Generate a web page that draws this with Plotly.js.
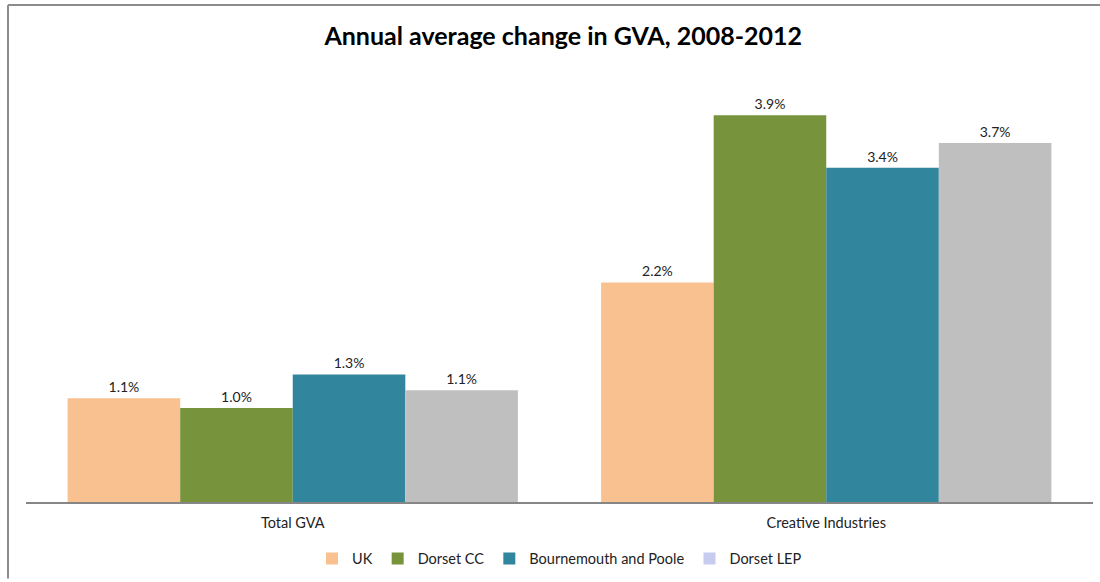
<!DOCTYPE html>
<html>
<head>
<meta charset="utf-8">
<script src="https://cdn.plot.ly/plotly-3.0.1.min.js"></script>
<style>
html,body{margin:0;padding:0;background:#fff;}
#chart{width:1100px;height:582px;}
</style>
</head>
<body>
<div id="chart"></div>
<script>
const categories = ["Total GVA", "Creative Industries"];
const seriesNames = ["UK", "Dorset CC", "Bournemouth and Poole", "Dorset LEP"];
const ukValues = [1.05, 2.22];
const dorsetCCValues = [0.95, 3.91];
const bpValues = [1.29, 3.38];
const lepValues = [1.13, 3.63];
const ukLabels = ["1.1%", "2.2%"];
const dorsetCCLabels = ["1.0%", "3.9%"];
const bpLabels = ["1.3%", "3.4%"];
const lepLabels = ["1.1%", "3.7%"];

const colors = ["#f9c190", "#77933c", "#31859c", "#bfbfbf"];
const lepLegendColor = "#c6cbef";
const font = "Lato, 'Open Sans', sans-serif";

const seriesValues = [ukValues, dorsetCCValues, bpValues, lepValues];
const seriesLabels = [ukLabels, dorsetCCLabels, bpLabels, lepLabels];

const traces = seriesValues.map((vals, i) => ({
  type: "bar",
  name: seriesNames[i],
  x: categories,
  y: vals,
  text: seriesLabels[i],
  textposition: "outside",
  cliponaxis: false,
  textfont: {family: font, size: 14, color: "#222"},
  marker: {color: colors[i]},
  showlegend: i < 3,
  hoverinfo: "x+y+name"
}));
// legend-only entry for Dorset LEP (legend swatch colour differs in the reference)
traces.push({
  type: "bar",
  name: seriesNames[3],
  x: [categories[0]],
  y: [null],
  xaxis: "x2",
  yaxis: "y2",
  marker: {color: lepLegendColor},
  showlegend: true,
  hoverinfo: "skip"
});

const plotTop = 82, plotBottom = 505, plotLeft = 26, plotRight = 1093;
const H = plotBottom - plotTop, W = plotRight - plotLeft;

const layout = {
  width: 1100, height: 582,
  margin: {l: plotLeft, r: 1100 - plotRight, t: plotTop, b: 582 - plotBottom},
  paper_bgcolor: "#fff",
  plot_bgcolor: "#fff",
  title: {
    text: "<b>Annual average change in GVA, 2008-2012</b>",
    font: {family: font, size: 25, color: "#000"},
    x: 0.512, xanchor: "center",
    y: 1 - 36/582, yanchor: "middle"
  },
  barmode: "group",
  bargap: 0.156,
  bargroupgap: 0,
  xaxis: {
    showline: true, linecolor: "#868686", linewidth: 2,
    ticks: "", showgrid: false,
    tickfont: {family: font, size: 14.5, color: "#222"},
    ticklabelstandoff: 7,
    fixedrange: true
  },
  yaxis: {
    range: [0, H / 99.6],
    visible: false, showgrid: false, zeroline: false,
    fixedrange: true
  },
  xaxis2: {overlaying: "x", visible: false},
  yaxis2: {overlaying: "y", visible: false, range: [0, 1]},
  legend: {
    orientation: "h",
    x: 0.5, xanchor: "center",
    y: -(562 - plotBottom) / H, yanchor: "middle",
    font: {family: font, size: 14.5, color: "#222"},
    traceorder: "normal",
    itemwidth: 30
  },
  shapes: [
    {type: "line", xref: "paper", yref: "paper",
     x0: (8 - plotLeft) / W, x1: (1100 - plotLeft) / W,
     y0: (plotBottom - 4.5) / H, y1: (plotBottom - 4.5) / H,
     line: {color: "#8c8c8c", width: 2}},
    {type: "line", xref: "paper", yref: "paper",
     x0: (8 - plotLeft) / W, x1: (8 - plotLeft) / W,
     y0: (plotBottom - 4.5) / H, y1: (plotBottom - 582) / H,
     line: {color: "#8c8c8c", width: 2}}
  ]
};

Plotly.newPlot("chart", traces, layout, {displayModeBar: false, staticPlot: true});
</script>
</body>
</html>
